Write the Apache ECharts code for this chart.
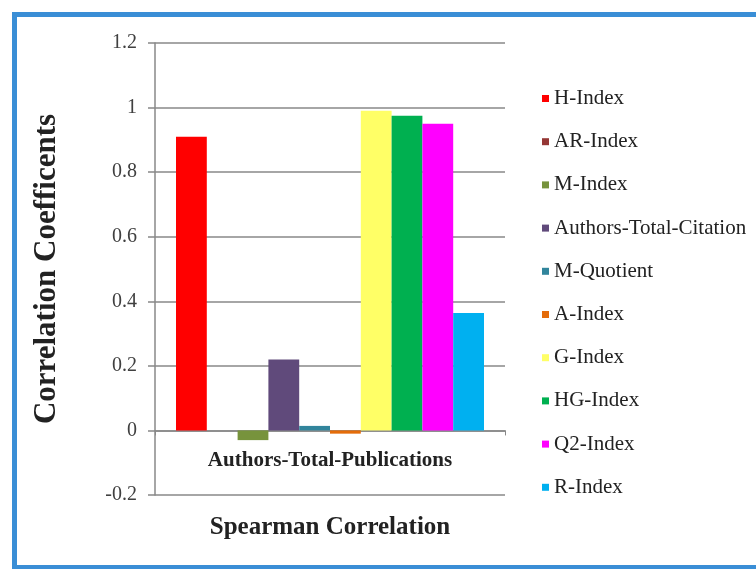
<!DOCTYPE html>
<html>
<head>
<meta charset="utf-8">
<script src="https://cdn.jsdelivr.net/npm/echarts@6/dist/echarts.min.js"></script>
<style>
  html, body { margin: 0; padding: 0; background: #fff; }
  #chart { width: 756px; height: 569px; }
</style>
</head>
<body>
<div id="chart"></div>
<script>
  const categories = ['Authors-Total-Publications']
  const seriesNames = [
    'H-Index', 'AR-Index', 'M-Index', 'Authors-Total-Citation', 'M-Quotient',
    'A-Index', 'G-Index', 'HG-Index', 'Q2-Index', 'R-Index'
  ]
  const seriesValues = [0.91, 0, -0.03, 0.22, 0.014, -0.01, 0.99, 0.975, 0.95, 0.364]
  const seriesColors = [
    '#ff0000', '#953735', '#77933c', '#604a7b', '#31859c',
    '#e46c0a', '#ffff66', '#00b050', '#ff00ff', '#00b0f0'
  ]
  const yTicks = { min: -0.2, max: 1.2, interval: 0.2 }

  const serif = '"Liberation Serif", "Times New Roman", serif'
  const gridBox = { left: 155, right: 251, top: 43, bottom: 74 }
  const plotHeight = 569 - gridBox.top - gridBox.bottom
  // category axis sits on the zero line, labels and name follow it
  const zeroOffset = plotHeight * (0 - yTicks.min) / (yTicks.max - yTicks.min)

  const chart = echarts.init(document.getElementById('chart'))

  chart.setOption({
    backgroundColor: '#fff',
    animation: false,
    graphic: [{
      type: 'rect',
      shape: { x: 14.5, y: 14.5, width: 800, height: 553 },
      style: { fill: null, stroke: '#3a8ed6', lineWidth: 5 }
    }],
    grid: Object.assign({ outerBoundsMode: 'none' }, gridBox),
    legend: {
      orient: 'vertical',
      left: 537,
      top: 83,
      itemWidth: 7,
      itemHeight: 7,
      itemGap: 22.2,
      icon: 'rect',
      textStyle: { fontFamily: serif, fontSize: 21, lineHeight: 21, color: '#222' },
      data: seriesNames
    },
    xAxis: {
      type: 'category',
      data: categories,
      offset: -zeroOffset,
      name: 'Spearman Correlation',
      nameLocation: 'middle',
      nameGap: 85,
      nameTextStyle: { fontFamily: serif, fontSize: 25, fontWeight: 'bold', color: '#222' },
      axisLine: { onZero: false, lineStyle: { color: '#888', width: 1.5 } },
      axisTick: { show: true, length: 5, lineStyle: { color: '#888' } },
      axisLabel: { margin: 20, fontFamily: serif, fontSize: 21, fontWeight: 'bold', color: '#222' }
    },
    yAxis: {
      type: 'value',
      min: yTicks.min,
      max: yTicks.max,
      interval: yTicks.interval,
      name: 'Correlation Coefficents',
      nameLocation: 'middle',
      nameGap: 93,
      nameTextStyle: { fontFamily: serif, fontSize: 31, fontWeight: 'bold', color: '#222' },
      axisLine: { show: true, lineStyle: { color: '#888', width: 1.5 } },
      axisTick: { show: true, length: 7, lineStyle: { color: '#888', width: 1.5 } },
      axisLabel: { margin: 18, fontFamily: serif, fontSize: 20, color: '#404040' },
      splitLine: { show: true, lineStyle: { color: '#888', width: 1.5 } }
    },
    series: seriesNames.map((name, i) => ({
      name: name,
      type: 'bar',
      barGap: '0%',
      barCategoryGap: '12%',
      itemStyle: { color: seriesColors[i] },
      data: [seriesValues[i]]
    }))
  })
</script>
</body>
</html>
